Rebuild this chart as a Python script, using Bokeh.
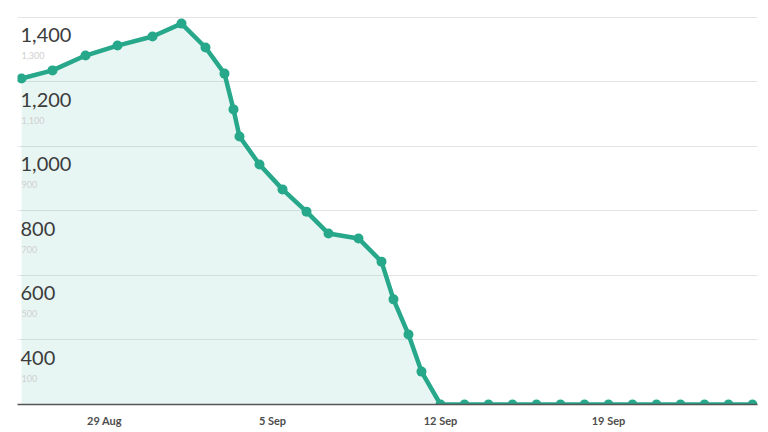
import pandas as pd
from bokeh.plotting import figure
from bokeh.models import FixedTicker, ColumnDataSource
from bokeh.core.properties import value
from bokeh.embed import file_html
from bokeh.resources import INLINE

# ---- data ----
dates = [
    "2017-08-25 13:00", "2017-08-26 20:00", "2017-08-28 05:00", "2017-08-29 13:00",
    "2017-08-31 00:00", "2017-09-01 05:00", "2017-09-02 05:00", "2017-09-03 00:00",
    "2017-09-03 09:00", "2017-09-03 15:00", "2017-09-04 11:00", "2017-09-05 10:00",
    "2017-09-06 10:00", "2017-09-07 08:00", "2017-09-08 14:00", "2017-09-09 13:00",
    "2017-09-10 01:00", "2017-09-10 16:00", "2017-09-11 05:00", "2017-09-12 00:00",
    "2017-09-13 00:00", "2017-09-14 00:00", "2017-09-15 00:00", "2017-09-16 00:00",
    "2017-09-17 00:00", "2017-09-18 00:00", "2017-09-19 00:00", "2017-09-20 00:00",
    "2017-09-21 00:00", "2017-09-22 00:00", "2017-09-23 00:00", "2017-09-24 00:00",
    "2017-09-25 00:00",
]
values = [
    1211, 1236, 1282, 1313, 1341, 1381, 1307, 1226, 1115, 1031, 944, 867,
    798, 730, 715, 643, 526, 417, 302, 200,
    200, 200, 200, 200, 200, 200, 200, 200, 200, 200, 200, 200, 200,
]
grid_values = [1400, 1200, 1000, 800, 600, 400]
big_labels = ["1,400", "1,200", "1,000", "800", "600", "400"]
small_labels = ["1,300", "1,100", "900", "700", "500", "100"]
tick_dates = ["2017-08-29", "2017-09-05", "2017-09-12", "2017-09-19"]
tick_labels = ["29 Aug", "5 Sep", "12 Sep", "19 Sep"]
baseline = 200

x = pd.to_datetime(dates, format="%Y-%m-%d %H:%M")
src = ColumnDataSource(dict(x=x, y=values, base=[baseline] * len(values)))

x_start = pd.Timestamp("2017-08-25 09:00")
x_end = pd.Timestamp("2017-09-25 05:00")

p = figure(frame_width=740, frame_height=404, x_axis_type="datetime",
           x_range=(x_start, x_end), y_range=(baseline, 1452.7),
           y_axis_location=None, output_backend="svg", toolbar_location=None,
           min_border_left=17, min_border_right=4, min_border_top=0, min_border_bottom=0)
p.outline_line_color = None
p.background_fill_color = "white"
p.border_fill_color = "white"

p.xgrid.visible = False
p.ygrid.ticker = FixedTicker(ticks=grid_values)
p.ygrid.grid_line_color = "#e4e4e4"
p.ygrid.grid_line_width = 1

tick_ms = [pd.Timestamp(d).value // 10**6 for d in tick_dates]
p.xaxis.ticker = FixedTicker(ticks=tick_ms)
p.xaxis.major_label_overrides = {t: l for t, l in zip(tick_ms, tick_labels)}
p.xaxis.axis_line_color = "#555555"
p.xaxis.axis_line_width = 1.5
p.xaxis.major_tick_line_color = None
p.xaxis.minor_tick_line_color = None
p.xaxis.major_tick_out = 0
p.xaxis.major_tick_in = 0
p.xaxis.minor_tick_out = 0
p.xaxis.major_label_standoff = 9
p.xaxis.major_label_text_font = "Lato"
p.xaxis.major_label_text_font_size = "11px"
p.xaxis.major_label_text_font_style = "bold"
p.xaxis.major_label_text_color = "#4d4d4d"

p.varea(x="x", y1="base", y2="y", source=src, fill_color="#2BAA8E", fill_alpha=0.11)
p.line(x="x", y="y", source=src, line_color="#27A88B", line_width=4.5, line_join="round")
p.scatter(x="x", y="y", source=src, size=10, fill_color="#27A88B", line_color=None)

p.text(x=[x_start] * len(grid_values), y=grid_values, text=big_labels,
       text_font=value("Lato"), text_font_size="20px", text_color="#3c3c3c",
       text_baseline="top", text_align="left", x_offset=3, y_offset=11)
p.text(x=[x_start] * len(grid_values), y=grid_values, text=small_labels,
       text_font=value("Lato"), text_font_size="9px", text_color="#d0d0d0",
       text_baseline="top", text_align="left", x_offset=4, y_offset=35)

open("out.html", "w").write(file_html(p, INLINE))
